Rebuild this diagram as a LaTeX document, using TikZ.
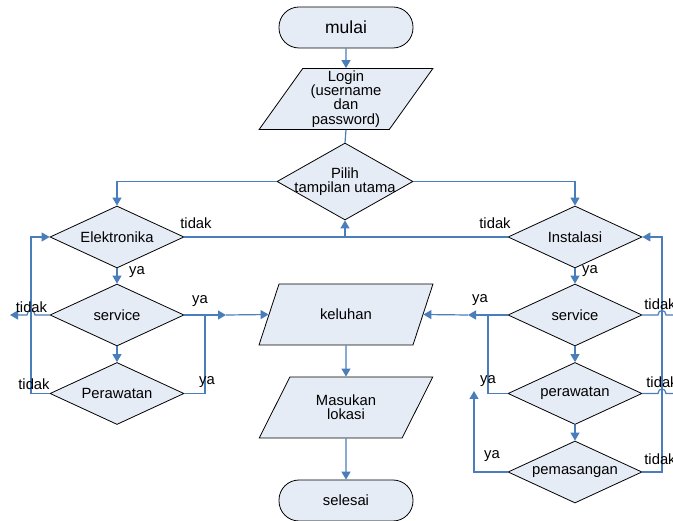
\documentclass[tikz,border=0pt]{standalone}
\usepackage{fontspec}
\setmainfont{Liberation Sans}
\usetikzlibrary{shapes.geometric,arrows.meta}
\definecolor{fillc}{RGB}{230,236,246}
\definecolor{linec}{RGB}{74,126,187}
\begin{document}
\begin{tikzpicture}[x=1pt,y=-1pt,
  every node/.style={font=\fontsize{14.8}{14.3}\selectfont},
  term/.style={draw=black, fill=fillc, rounded corners=20pt, minimum width=134pt, minimum height=41pt, line width=0.8pt},
  para/.style={trapezium, trapezium left angle=58, trapezium right angle=122, trapezium stretches=true, draw=black, fill=fillc, minimum width=174pt, minimum height=61pt, inner sep=1pt, align=center, line width=0.8pt},
  dia/.style={diamond, draw=black, fill=fillc, minimum width=134pt, minimum height=62pt, inner sep=0pt, aspect=2, line width=0.8pt},
  conn/.style={draw=linec, line width=1.2pt},
  arr/.style={conn, -{Triangle[length=8pt,width=9pt]}},
  lbl/.style={inner sep=0pt}
]
\useasboundingbox (0,0) rectangle (673,521);
\clip (0,0) rectangle (673,521);

% main column
\node[term, font=\fontsize{17.5}{18}\selectfont] (mulai) at (346,27.5) {mulai};
\node[para] (login) at (346,99) {Login\\(username\\dan\\password)};
\node[dia, minimum width=136pt, minimum height=77pt] (pilih) at (345,181.5) {};
\node[lbl, align=center] (piliht) at (pilih) {Pilih\\tampilan utama};
\node[para] (kel) at (346,314.5) {keluhan};
\node[para] (mas) at (346,407.5) {Masukan\\lokasi};
\node[term] (sel) at (346,500.5) {selesai};

% left column
\node[dia] (el) at (117,237) {Elektronika};
\node[dia] (sv) at (117,315) {service};
\node[dia] (per) at (117,393.5) {Perawatan};

% right column
\node[dia] (ins) at (575,237) {Instalasi};
\node[dia] (sv2) at (575,315) {service};
\node[dia] (pr2) at (575,393.5) {perawatan};
\node[dia] (pem) at (575,472) {pemasangan};

% coordinates
\coordinate (j) at (pilih.south |- el.east);
\coordinate (m1) at (226,315);
\coordinate (v1) at (205,315);
\coordinate (m2) at (468,315);
\coordinate (v2) at (488,315);
\coordinate (lc2) at (31,237);
\coordinate (lt) at (10,315);
\coordinate (rc2) at (662,237);
\coordinate (d1) at (474,391);
\coordinate (rt1) at (685,315);
\coordinate (rt2) at (685,393.5);

% connectors
\draw[arr] (mulai) -- (login);
\draw[conn] (login.south) -- (pilih.north);
\draw[arr] (pilih.west) -| (el.north);
\draw[arr] (pilih.east) -| (ins.north);
\draw[conn] (el.east) -- (ins.west);
\draw[arr] (j) -- (pilih.south);
\draw[arr] (el) -- (sv);
\draw[arr] (sv) -- (per);
\draw[arr] (sv.east) -- (m1);
\draw[arr] (m1) -- (kel.left side);
\draw[conn] (per.east) -| (v1);
\draw[arr] (per.west) -| (lc2) -- (el.west);
\draw[arr] (sv.west) -- (35,315) .. controls (35,309) and (27,309) .. (27,315) -- (lt);
\draw[arr] (kel) -- (mas);
\draw[arr] (mas) -- (sel);

\draw[arr] (ins) -- (sv2);
\draw[arr] (sv2) -- (pr2);
\draw[arr] (pr2) -- (pem);
\draw[arr] (sv2.west) -- (m2);
\draw[arr] (m2) -- (kel.right side);
\draw[conn] (pr2.west) -| (v2);
\draw[arr] (pem.west) -| (d1);
\draw[arr] (pem.east) -| (rc2) -- (ins.east);
\draw[conn] (sv2.east) -- (658,315) .. controls (658,309) and (666,309) .. (666,315) -- (rt1);
\draw[conn] (pr2.east) -- (658,393.5) .. controls (658,387.5) and (666,387.5) .. (666,393.5) -- (rt2);

% labels
\node[lbl] (t1) at (196,223) {tidak};
\node[lbl] (y1) at (137,272) {ya};
\node[lbl] (t2) at (31.5,307) {tidak};
\node[lbl] (y2) at (200,301) {ya};
\node[lbl] (t3) at (34,384) {tidak};
\node[lbl] (y3) at (207,382) {ya};
\node[lbl] (t4) at (495,223) {tidak};
\node[lbl] (y4) at (590,271) {ya};
\node[lbl] (y5) at (480,300) {ya};
\node[lbl] (t5) at (660,304) {tidak};
\node[lbl] (y6) at (488,381) {ya};
\node[lbl] (t6) at (662,382) {tidak};
\node[lbl] (y7) at (492,456) {ya};
\node[lbl] (t7) at (660,459) {tidak};
\end{tikzpicture}
\end{document}
